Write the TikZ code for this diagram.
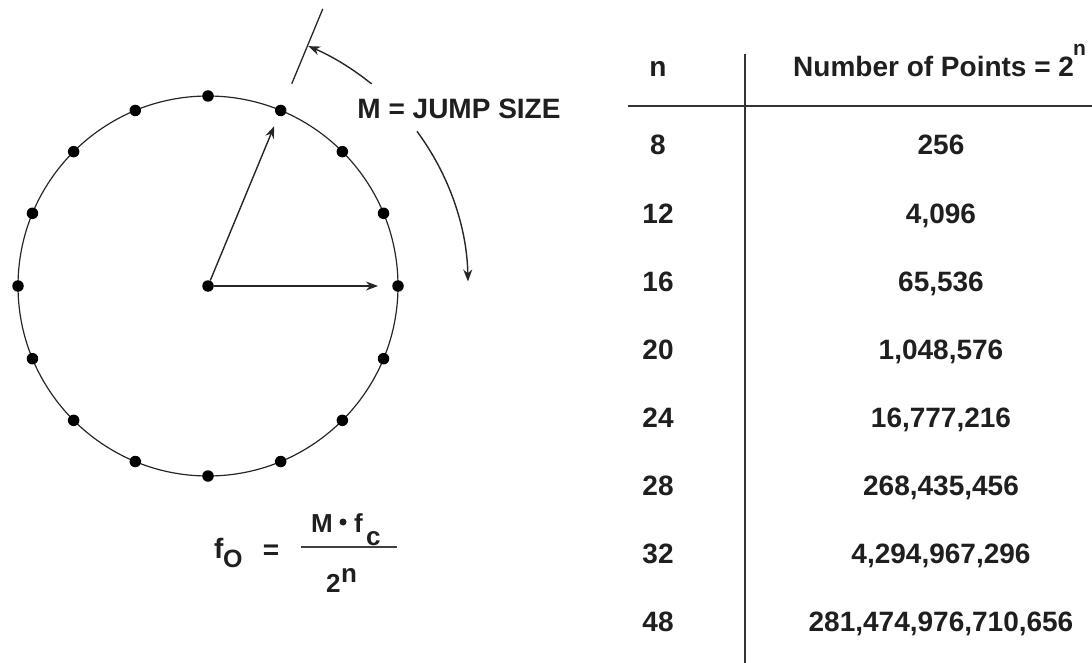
\documentclass[tikz,border=0pt]{standalone}
\usepackage{fontspec}
\setmainfont{Liberation Sans}
\usetikzlibrary{arrows.meta,calc}
\begin{document}
\begin{tikzpicture}[x=1pt,y=1pt,
  dot/.style={circle,fill=black,inner sep=0pt,minimum size=11.5pt},
  lbl/.style={font=\fontsize{28}{32}\selectfont\bfseries, text=black!88, inner sep=0pt},
  fml/.style={font=\fontsize{26}{30}\selectfont\bfseries, text=black!88, inner sep=0pt, anchor=base west},
  sml/.style={font=\fontsize{21}{24}\selectfont\bfseries, text=black!88, inner sep=0pt},
  arr/.style={line width=1.4pt, draw=black!85, -{Stealth[length=12pt,width=9pt]}},
  thin/.style={line width=1.3pt, draw=black!85},
  rule/.style={line width=1.6pt, draw=black!80}]
\useasboundingbox (0,0) rectangle (1092,-663);
% circle of points
\coordinate (c) at (208,-286);
\draw[line width=1.2pt, draw=black!85] (c) circle[radius=190];
\foreach \k in {0,...,15} \node[dot] (p\k) at ($(c)+(\k*22.5:190)$) {};
\node[dot] (c0) at (c) {};
% vectors
\coordinate (a1) at ($(c)+(67.5:173)$);
\coordinate (a0) at ($(c)+(0:170)$);
\draw[arr] (c0) -- (a1);
\draw[arr] (c0) -- (a0);
% radial extension line
\coordinate (t1) at ($(c)+(67.5:219)$);
\coordinate (t2) at ($(c)+(67.5:300)$);
\draw[thin] (t1) -- (t2);
% jump-size arcs
\coordinate (s1) at ($(c)+(51:260)$);
\coordinate (s2) at ($(c)+(36.5:260)$);
\draw[arr] (s1) arc[start angle=51, end angle=67.3, radius=260];
\draw[arr] (s2) arc[start angle=36.5, end angle=1, radius=260];
\node[lbl] (jump) at (459,-109) {M = JUMP SIZE};
% formula
\node[fml, font=\fontsize{28}{30}\selectfont\bfseries] (ff) at (214,-558) {f};
\node[fml, font=\fontsize{25}{28}\selectfont\bfseries] (fsub) at (223,-567) {O};
\node[lbl] (eq) at (271,-552) {=};
\coordinate (b1) at (301,-547);
\coordinate (b2) at (397,-547);
\draw[line width=1.6pt, draw=black!75] (b1) -- (b2);
\node[fml] (num) at (311,-532) {M};
\node[circle, fill=black!88, inner sep=0pt, minimum size=7pt] (bul) at (343,-522) {};
\node[fml] (fc) at (354,-532) {f};
\node[fml] (csub) at (366,-545) {c};
\node[fml] (two) at (326,-592) {2};
\node[fml] (nsup) at (341,-582) {n};
% table
\coordinate (v1) at (745,-54);
\coordinate (v2) at (745,-663);
\coordinate (h1) at (628,-106);
\coordinate (h2) at (1092,-106);
\draw[rule] (v1) -- (v2);
\draw[rule] (h1) -- (h2);
\node[lbl, anchor=base] (hn) at (658,-77) {n};
\node[lbl, anchor=base west] (hp) at (793,-77) {Number of Points = 2};
\node[sml, anchor=base west] (hsup) at (1073,-56) {n};
\foreach \n/\v [count=\i from 0] in {8/256,12/{4,096},16/{65,536},20/{1,048,576},24/{16,777,216},28/{268,435,456},32/{4,294,967,296},48/{281,474,976,710,656}}{
  \node[lbl, anchor=base] (n\i) at (658,-155-68*\i) {\n};
  \node[lbl, anchor=base] (v\i) at (941,-155-68*\i) {\v};
}
\end{tikzpicture}
\end{document}
